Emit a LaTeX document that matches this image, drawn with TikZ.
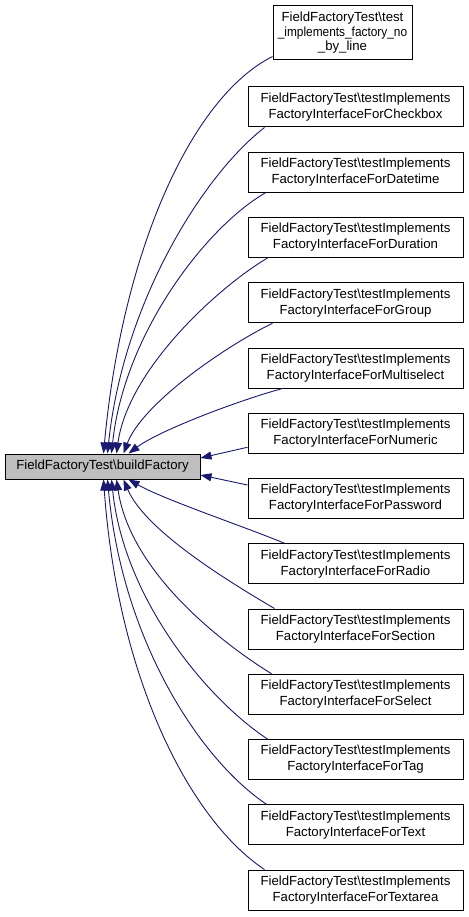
\documentclass[tikz,border=0pt]{standalone}
\usepackage{fontspec}
\setmainfont{Liberation Sans}
\usetikzlibrary{arrows.meta}
\definecolor{edgeblue}{RGB}{25,25,112}
\definecolor{mainfill}{RGB}{191,191,191}
\begin{document}
\begin{tikzpicture}[x=1pt,y=-1pt,
  lbl/.style={font=\fontsize{13.2}{16}\selectfont, align=center, inner sep=0pt},
  box/.style={lbl, draw=black, line width=1pt, fill=white, minimum width=215pt, minimum height=40pt},
  mainbox/.style={lbl, draw=black, line width=1pt, fill=mainfill, minimum width=195pt, minimum height=25pt},
  firstbox/.style={lbl, font=\fontsize{13.2}{14.5}\selectfont, draw=black, line width=1pt, fill=white, minimum width=139pt, minimum height=54pt},
  edge/.style={draw=edgeblue, line width=0.9pt, {Triangle[length=11pt,width=8pt,fill=edgeblue]}-}
]
\fill[white] (0,0) rectangle (468,917);
\useasboundingbox (0,0) rectangle (468,917);

\node[mainbox] (main) at (102.5,466.5) {FieldFactoryTest\textbackslash buildFactory};

\node[firstbox] (b0) at (342.5,33) {FieldFactoryTest\textbackslash test\\\scalebox{0.9}[1]{\_implements\_factory\_no}\\\_by\_line};
\node[box] (c1) at (355.5,107) {FieldFactoryTest\textbackslash testImplements\\FactoryInterfaceForCheckbox};
\node[box] (c2) at (355.5,172.25) {FieldFactoryTest\textbackslash testImplements\\FactoryInterfaceForDatetime};
\node[box] (c3) at (355.5,237.5) {FieldFactoryTest\textbackslash testImplements\\FactoryInterfaceForDuration};
\node[box] (c4) at (355.5,302.75) {FieldFactoryTest\textbackslash testImplements\\FactoryInterfaceForGroup};
\node[box] (c5) at (355.5,368) {FieldFactoryTest\textbackslash testImplements\\FactoryInterfaceForMultiselect};
\node[box] (c6) at (355.5,433.25) {FieldFactoryTest\textbackslash testImplements\\FactoryInterfaceForNumeric};
\node[box] (c7) at (355.5,498.5) {FieldFactoryTest\textbackslash testImplements\\FactoryInterfaceForPassword};
\node[box] (c8) at (355.5,563.75) {FieldFactoryTest\textbackslash testImplements\\FactoryInterfaceForRadio};
\node[box] (c9) at (355.5,629) {FieldFactoryTest\textbackslash testImplements\\FactoryInterfaceForSection};
\node[box] (c10) at (355.5,694.25) {FieldFactoryTest\textbackslash testImplements\\FactoryInterfaceForSelect};
\node[box] (c11) at (355.5,759.5) {FieldFactoryTest\textbackslash testImplements\\FactoryInterfaceForTag};
\node[box] (c12) at (355.5,824.75) {FieldFactoryTest\textbackslash testImplements\\FactoryInterfaceForText};
\node[box] (c13) at (355.5,890) {FieldFactoryTest\textbackslash testImplements\\FactoryInterfaceForTextarea};

% top edges
\draw[edge] ([xshift=99pt]main.north west) .. controls (122,254) and (190,98) .. ([yshift=4pt]b0.south west);
\draw[edge] ([xshift=103pt]main.north west) .. controls (123,304) and (202,176) .. ([xshift=17pt]c1.south west);
\draw[edge] ([xshift=107pt]main.north west) .. controls (124,334) and (206,227) .. ([xshift=18pt]c2.south west);
\draw[edge] ([xshift=112pt]main.north west) .. controls (128,370) and (217,288) .. ([xshift=20pt]c3.south west);
\draw[edge] ([xshift=119pt]main.north west) .. controls (142,404) and (224,347) .. ([xshift=25pt]c4.south west);
\draw[edge] ([xshift=124pt]main.north west) .. controls (160,430) and (240,400) .. ([xshift=35pt]c5.south west);
% side edges
\draw[edge] ([yshift=8.5pt]main.east) -- ([yshift=-14pt]c6.west);
\draw[edge] ([yshift=-8.5pt]main.east) -- ([yshift=13.5pt]c7.west);
% bottom edges
\draw[edge] ([xshift=124pt]main.south west) .. controls (165,500) and (240,525) .. ([xshift=37pt]c8.north west);
\draw[edge] ([xshift=119pt]main.south west) .. controls (145,530) and (226,580) .. ([xshift=27pt]c9.north west);
\draw[edge] ([xshift=112pt]main.south west) .. controls (130,570) and (217,640) .. ([xshift=24pt]c10.north west);
\draw[edge] ([xshift=107pt]main.south west) .. controls (124,600) and (208,700) .. ([xshift=20pt]c11.north west);
\draw[edge] ([xshift=103pt]main.south west) .. controls (122,640) and (200,760) .. ([xshift=19pt]c12.north west);
\draw[edge] ([xshift=99pt]main.south west) .. controls (118,680) and (190,820) .. ([xshift=17pt]c13.north west);
\end{tikzpicture}
\end{document}
